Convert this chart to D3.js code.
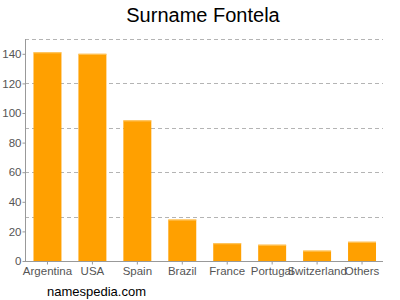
<!DOCTYPE html>
<html><head><meta charset="utf-8">
<script src="https://cdn.jsdelivr.net/npm/d3@7"></script>
<style>body{margin:0;background:#fff}svg{display:block}</style>
</head><body><svg id="c" width="400" height="300"></svg>
<script>
const categories = ["Argentina","USA","Spain","Brazil","France","Portugal","Switzerland","Others"];
const values = [141,140,95,28,12,11,7,13];
const yTicks = [0,20,40,60,80,100,120,140];
const gridValues = [30,60,90,120,150];

(function(){
const svg = d3.select("#c");
const mLeft = 25, mRight = 384.5, mBottom = 261, mTop = 39;
const x = d3.scaleBand().domain(categories).range([mLeft, mRight]).paddingInner(0.378).paddingOuter(0.189);
const y = d3.scaleLinear().domain([0,150]).range([mBottom, mTop]);

svg.append("text").attr("x",203).attr("y",22).attr("text-anchor","middle")
  .attr("font-family","Liberation Sans, Arial, sans-serif").attr("font-size",20).attr("fill","#000").text("Surname Fontela");

svg.append("g").selectAll("line").data(gridValues).join("line")
  .attr("x1",mLeft).attr("x2",383).attr("y1",d=>Math.round(y(d))+0.5).attr("y2",d=>Math.round(y(d))+0.5)
  .attr("stroke","#b4b4b4").attr("stroke-dasharray","4,3").attr("stroke-width",1);

const bars = svg.append("g");
bars.selectAll("rect").data(values).join("rect")
  .attr("x",(d,i)=>x(categories[i])).attr("width",x.bandwidth())
  .attr("y",d=>y(d)).attr("height",d=>mBottom-y(d)).attr("fill","#FFA000");
bars.selectAll("line").data(values).join("line")
  .attr("x1",(d,i)=>x(categories[i])).attr("x2",(d,i)=>x(categories[i])+x.bandwidth())
  .attr("y1",d=>y(d)+0.5).attr("y2",d=>y(d)+0.5).attr("stroke","#FFC865").attr("stroke-width",1);

const yAxis = svg.append("g").attr("transform",`translate(${mLeft+0.5},0)`)
  .call(d3.axisLeft(y).tickValues(yTicks).tickSize(3).tickSizeOuter(0));
const xAxis = svg.append("g").attr("transform",`translate(0,${mBottom+0.5})`)
  .call(d3.axisBottom(x).tickSize(3).tickSizeOuter(0));
[yAxis,xAxis].forEach(a=>{
  a.selectAll("path").attr("stroke","#999").attr("d", a===yAxis ? `M0,${mTop}V${mBottom}` : `M${mLeft},0H383`);
  a.selectAll("line").attr("stroke","#999");
  a.selectAll("text").attr("fill","#555").attr("font-size",11.5).attr("font-family","Liberation Sans, Arial, sans-serif");
});
yAxis.selectAll("text").attr("x",-4);
xAxis.selectAll("text").attr("y",5);

svg.append("text").attr("x",47).attr("y",296).attr("font-family","Liberation Sans, Arial, sans-serif")
  .attr("font-size",13).attr("fill","#000").text("namespedia.com");
})();
</script></body></html>
